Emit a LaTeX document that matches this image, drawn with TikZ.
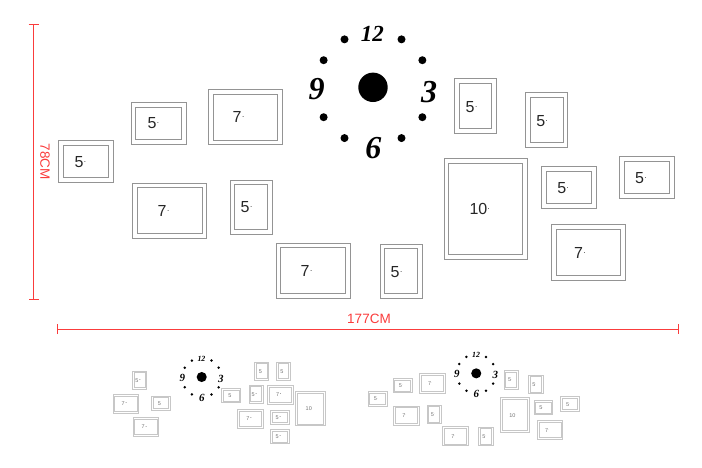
\documentclass[tikz,border=0pt]{standalone}
\usepackage{fontspec}
\setmainfont{Liberation Sans}
\newfontfamily\clk{Liberation Serif}
\usetikzlibrary{arrows.meta}
\definecolor{dimred}{RGB}{250,60,60}
\newcommand\mk{\kern.4pt\raisebox{.6ex}{\fontsize{8}{8}\selectfont.}}
\tikzset{
  frm/.style={draw=black!42,line width=.75pt,inner sep=0pt},
  fr/.style 2 args={frm,minimum width=#1,minimum height=#2},
  lbl/.style={anchor=west,inner sep=0pt,text=black!85,font=\fontsize{16}{16}\selectfont},
  num/.style={inner sep=0pt,font=\clk\bfseries\itshape\fontsize{23}{23}\selectfont},
  bignum/.style={inner sep=0pt,font=\clk\bfseries\itshape\fontsize{32}{32}\selectfont},
  dim/.style={dimred,line width=.7pt,arrows={Bar[width=10pt]-Bar[width=10pt]}},
  dimlbl/.style={text=dimred,inner sep=0pt,font=\fontsize{13.5}{13.5}\selectfont},
  tfrm/.style={draw=black!22,line width=1pt,inner sep=0pt},
  tfr/.style 2 args={tfrm,minimum width=#1,minimum height=#2},
  tlbl/.style={inner sep=0pt,text=black!55,font=\fontsize{5.5}{5.5}\selectfont}
}
\begin{document}
\begin{tikzpicture}[x=1pt,y=-1pt]
\useasboundingbox (0,0) rectangle (702,467);
\def\clockface#1{%dong ho
  \fill (0,-1.4) circle (14.7);%tam
  \foreach \a in {30,60,120,150,210,240,300,330} \fill (\a:57) circle (4);%cham
  \node[num] (#1h12) at (-0.7,-54.4) {12};
  \node[bignum] (#1h9) at (-56.3,0.6) {9};
  \node[bignum] (#1h3) at (56,3) {3};
  \node[bignum] (#1h6) at (0.3,59.6) {6};}
\def\wall#1{%bo khung chinh
  \begin{scope}[shift={(373,88.7)}]\clockface{#1}\end{scope}
  \foreach \n/\w/\h/\x/\y/\lx/\ly/\t in {a/55/42/85.8/161.5/74.5/162/5\mk, b/55/42/158.5/123.3/147.5/123/5\mk,
    c/74/55.5/245.3/116.9/232.5/117/7\mk, d/74/55.5/169.7/210.7/157.5/211/7\mk, e/42/54.5/251/207.2/240.5/207/5\mk,
    f/74/55.5/313/270.8/300.5/271/7\mk, g/42/54.5/475.3/106/465.5/106.7/5\mk, h/42/54.5/546.8/120/536.2/120.7/5\mk,
    i/83.3/101/485.7/208.8/469.3/209.3/10\mk, j/55/42/569/187.5/557.2/188.3/5\mk, k/55/42/646.7/177.2/634.8/177.7/5\mk,
    l/74/55.5/588.3/252.2/573.8/253.3/7\mk, m/42/54.5/401/271.3/390.5/271.7/5\mk}{
    \node[fr={\w}{\h}] (#1f\n) at (\x,\y) {};%khung ngoai
    \node[fr={\w-9.5}{\h-9.5}] (#1g\n) at (\x,\y) {};%khung trong
    \node[lbl] (#1l\n) at (\lx,\ly) {\t};}}
\wall{m}
%kich thuoc
\coordinate (vt) at (33.5,23.7); \coordinate (vb) at (33.5,300);
\coordinate (hl) at (57,329); \coordinate (hr) at (679,329);
\draw[dim] (vt)--(vb);
\draw[dim] (hl)--(hr);
\node[dimlbl,rotate=-90] (h78) at (45,161.7) {78CM};
\node[dimlbl] (h177) at (369,319) {177CM};
%mau nho ben trai
\begin{scope}[shift={(201.7,377.5)},scale=.343,transform shape]\clockface{p}\end{scope}
\foreach \n/\w/\h/\x/\y/\t in {a/14/18.3/139.8/380.3/5\mk, b/25.6/18.7/126/403.8/7\mk, c/19/14/161/403.2/5,
  d/25.6/18.7/146/427/7\mk, e/19/14/231.3/395.8/5, f/14/18.3/261.8/371.3/5, g/14/18.3/283.5/371.3/5,
  h/14/18.3/256/394.2/5\mk, i/25.6/18.7/280.5/394.7/7\mk, j/29.7/34.3/310.3/408.7/10, k/25.6/18.7/250.7/418.7/7\mk,
  l/19/14/280/417.5/5\mk, m/19/14/280/436.7/5\mk}{
  \node[tfr={\w}{\h}] (p\n) at (\x,\y) {};
  \node[tfr={\w-3.4}{\h-3.4}] (q\n) at (\x,\y) {};
  \node[tlbl] (pl\n) at (\x-1.5,\y) {\t};}
%mau nho ben phai
\begin{scope}[shift={(348.3,343.4)},scale=.343,transform shape,
  frm/.style={draw=black!22,line width=1pt,inner sep=0pt},
  lbl/.append style={text=black!55}]
  \wall{r}
\end{scope}
\end{tikzpicture}
\end{document}
